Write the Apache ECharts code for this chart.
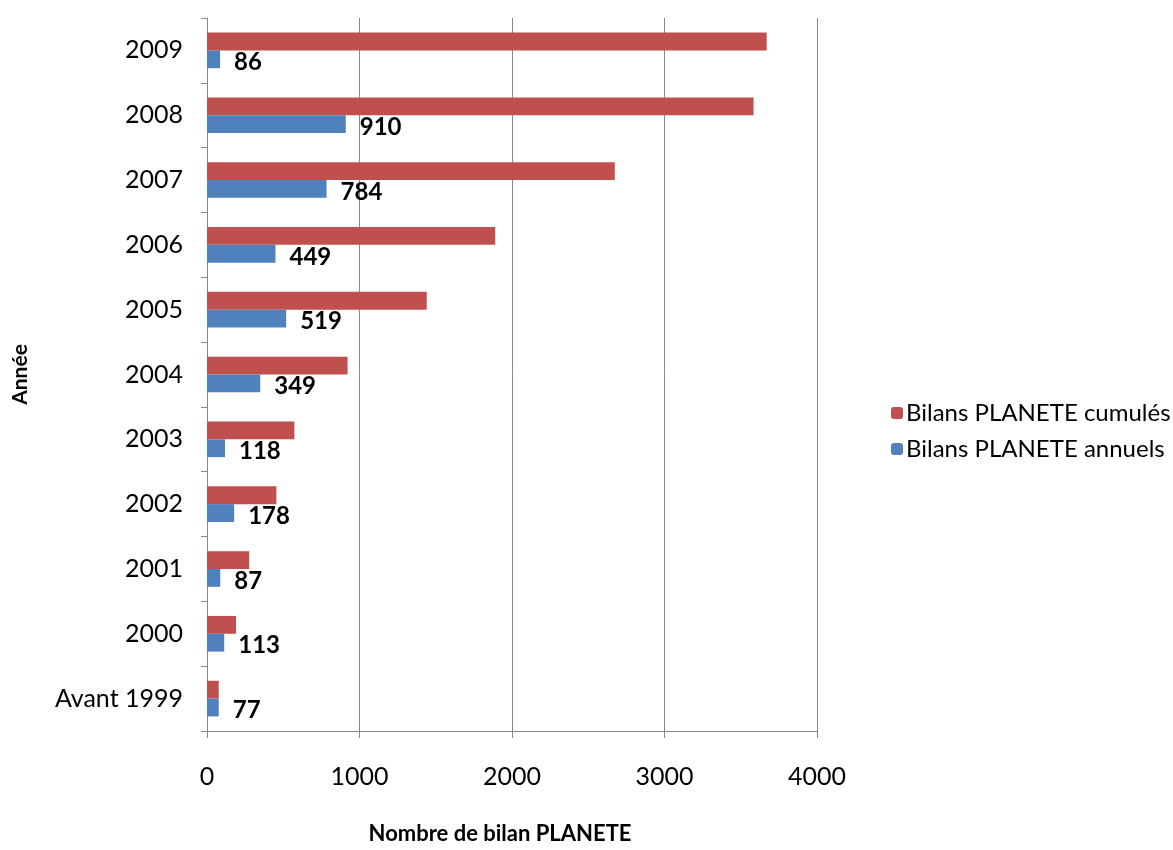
<!DOCTYPE html>
<html><head><meta charset="utf-8">
<script src="https://cdn.jsdelivr.net/npm/echarts@6/dist/echarts.min.js"></script>
<style>html,body{margin:0;padding:0;background:#fff}#c{width:1173px;height:850px}</style>
</head><body><div id="c"></div>
<script>
var categories = ['Avant 1999','2000','2001','2002','2003','2004','2005','2006','2007','2008','2009'];
var annuels = [77,113,87,178,118,349,519,449,784,910,86];
var cumules = [77,190,277,455,573,922,1441,1890,2674,3584,3670];
var xTicks = [0,1000,2000,3000,4000];
var nameCum = 'Bilans PLANETE cumulés';
var nameAnn = 'Bilans PLANETE annuels';
var font = 'Lato, "Open Sans", sans-serif';
var chart = echarts.init(document.getElementById('c'));
chart.setOption({
  animation:false,
  backgroundColor:'#fff',
  textStyle:{fontFamily:font},
  grid:{left:207,right:356,top:18,bottom:106,containLabel:false},
  legend:{orient:'vertical',left:886,top:396,itemWidth:12,itemHeight:12,itemGap:12,
    data:[nameCum,nameAnn],
    textStyle:{fontFamily:font,fontSize:24,color:'#000',padding:[0,0,0,-2]}},
  xAxis:{type:'value',min:xTicks[0],max:xTicks[xTicks.length-1],interval:1000,
    name:'Nombre de bilan PLANETE',nameLocation:'middle',nameGap:92,
    nameTextStyle:{fontFamily:font,fontSize:22,fontWeight:'bold',color:'#000',padding:[0,24,0,0]},
    axisLine:{show:true,lineStyle:{color:'#888'}},
    axisTick:{show:true,length:7,lineStyle:{color:'#888'}},
    axisLabel:{margin:33,fontSize:25,color:'#000',fontFamily:font,formatter:function(v){return String(v);}},
    splitLine:{show:true,lineStyle:{color:'#888',width:1}}},
  yAxis:{type:'category',data:categories,
    name:'Année',nameLocation:'middle',nameGap:176,nameRotate:90,
    nameTextStyle:{fontFamily:font,fontSize:21,fontWeight:'bold',color:'#000'},
    axisLine:{show:true,lineStyle:{color:'#888'}},
    axisTick:{show:true,length:6,lineStyle:{color:'#888'}},
    axisLabel:{margin:24,fontSize:25,color:'#000',fontFamily:font}},
  series:[
    {name:nameCum,type:'bar',data:cumules,barGap:'0%',barCategoryGap:'45%',
     itemStyle:{color:'#C0504D'}},
    {name:nameAnn,type:'bar',data:annuels,barGap:'0%',barCategoryGap:'45%',
     itemStyle:{color:'#4F81BD'},
     label:{show:true,position:'right',distance:14,offset:[0,3],color:'#000',fontWeight:'bold',fontSize:24,fontFamily:font}}
  ]
});
</script></body></html>
